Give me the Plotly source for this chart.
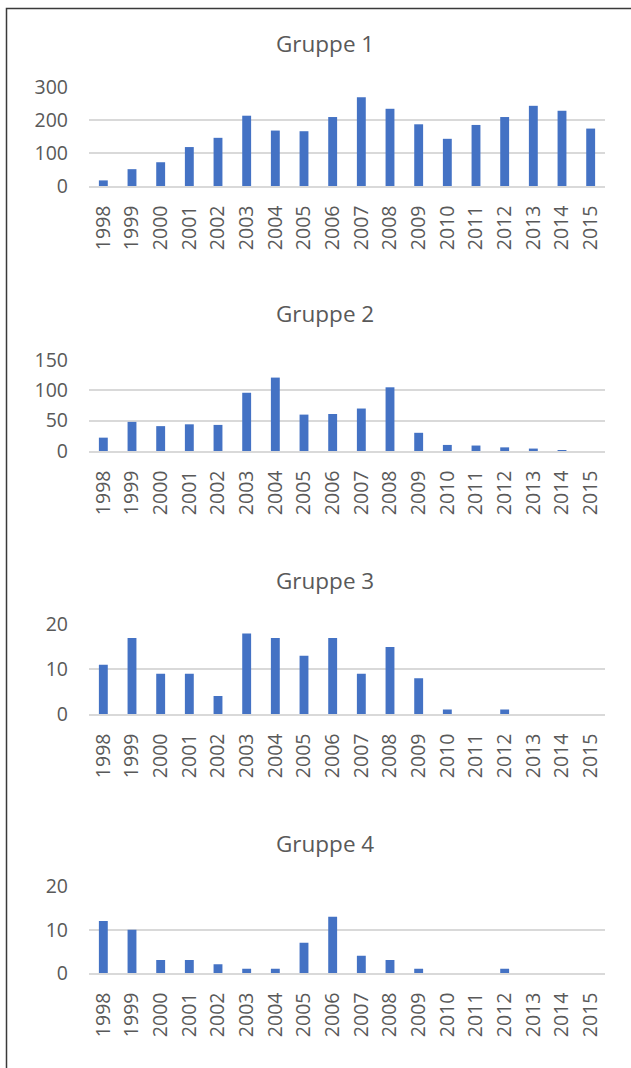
import plotly.graph_objects as go

# Jahre (Kategorien) und Werte je Gruppe
years = [str(y) for y in range(1998, 2016)]
gruppe_1 = [17, 51, 72, 118, 146, 213, 168, 166, 209, 269, 234, 187, 143, 185, 209, 243, 228, 174]
gruppe_2 = [22, 48, 41, 44, 43, 96, 121, 60, 61, 70, 105, 30, 10, 9, 6, 4, 1, 0]
gruppe_3 = [11, 17, 9, 9, 4, 18, 17, 13, 17, 9, 15, 8, 1, 0, 1, 0, 0, 0]
gruppe_4 = [12, 10, 3, 3, 2, 1, 1, 7, 13, 4, 3, 1, 0, 0, 1, 0, 0, 0]
titles = ["Gruppe 1", "Gruppe 2", "Gruppe 3", "Gruppe 4"]
y_ranges = [[0, 300], [0, 150], [0, 20], [0, 20]]
y_dticks = [100, 50, 10, 10]

series = [gruppe_1, gruppe_2, gruppe_3, gruppe_4]

W, H = 631, 1068
BAR = "#4472C4"
TXT = "#595959"
GRID = "#D9D9D9"
FONT = "Open Sans"

# pixel layout of each panel: (top of value axis, zero line, title centre)
panels = [(87, 186, 43), (360, 451, 314), (624.5, 714, 580), (886.5, 973, 843)]
x_left, x_right = 89, 605

fig = go.Figure()
annotations = []
for i, (vals, (top, bottom, ty)) in enumerate(zip(series, panels), start=1):
    ax = "" if i == 1 else str(i)
    fig.add_trace(go.Bar(
        x=years, y=vals, marker=dict(color=BAR, line=dict(width=0)),
        xaxis="x" + ax, yaxis="y" + ax, showlegend=False, hoverinfo="x+y",
    ))
    fig.layout["xaxis" + ax] = dict(
        domain=[x_left / W, x_right / W], anchor="y" + ax,
        type="category", tickangle=-90, showgrid=False, zeroline=False,
        showline=True, linecolor=GRID, linewidth=1.5,
        ticks="", ticklabelstandoff=10, automargin=False,
        tickfont=dict(family=FONT, size=19.5, color=TXT),
        fixedrange=True,
    )
    fig.layout["yaxis" + ax] = dict(
        domain=[1 - bottom / H, 1 - top / H], anchor="x" + ax,
        range=y_ranges[i - 1], dtick=y_dticks[i - 1], tick0=0,
        showgrid=True, gridcolor=GRID, gridwidth=1.5,
        zeroline=False, showline=False, ticks="", ticklabelstandoff=20,
        automargin=False,
        tickfont=dict(family=FONT, size=19.5, color=TXT),
        fixedrange=True,
    )
    annotations.append(dict(
        text=titles[i - 1], xref="paper", yref="paper",
        x=325 / W, y=1 - ty / H, xanchor="center", yanchor="middle",
        showarrow=False, font=dict(family=FONT, size=22.5, color=TXT),
    ))

fig.update_layout(
    width=W, height=H,
    margin=dict(l=0, r=0, t=0, b=0, autoexpand=False),
    paper_bgcolor="white", plot_bgcolor="white",
    bargap=0.69,
    annotations=annotations,
    shapes=[dict(
        type="rect", xref="paper", yref="paper",
        x0=6.5 / W, x1=1.1, y0=-0.1, y1=1 - 8.5 / H,
        line=dict(color="#3a3a3a", width=1.5), fillcolor="rgba(0,0,0,0)",
        layer="above",
    )],
)

fig.write_html("out.html")
